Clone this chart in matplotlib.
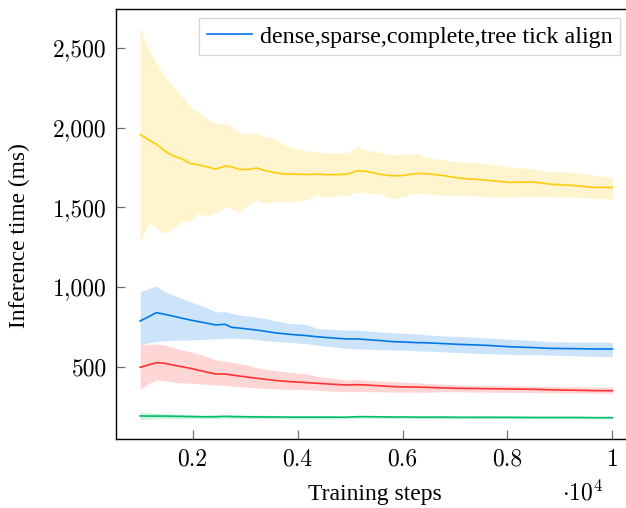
import matplotlib
matplotlib.use("Agg")
import matplotlib.pyplot as plt
from matplotlib.ticker import FuncFormatter, FixedLocator

plt.rcParams['font.family'] = 'serif'
plt.rcParams['font.serif'] = ['Liberation Serif', 'DejaVu Serif']
plt.rcParams['mathtext.fontset'] = 'cm'
plt.rcParams['axes.unicode_minus'] = False

steps = [1000, 1170, 1310, 1470, 1630, 1790, 1950, 2110, 2270, 2440, 2620, 2740, 2900,
         3060, 3220, 3380, 3540, 3700, 3850, 4170, 4360, 4550, 4930, 5150, 5310, 5570,
         5820, 6010, 6270, 6460, 6770, 7090, 7600, 8040, 8490, 8800, 9310, 9630, 10000]

yellow_mean = [1958, 1922, 1897, 1853, 1824, 1805, 1776, 1767, 1755, 1740, 1759, 1755, 1738,
               1738, 1747, 1730, 1720, 1711, 1709, 1706, 1709, 1705, 1707, 1730, 1726, 1707,
               1698, 1700, 1713, 1711, 1700, 1683, 1670, 1657, 1659, 1646, 1636, 1625, 1625]
yellow_upper = [2633, 2487, 2403, 2320, 2257, 2198, 2136, 2100, 2058, 2023, 2027, 2006, 1968,
                1964, 1964, 1943, 1933, 1902, 1881, 1855, 1848, 1840, 1843, 1881, 1860, 1845,
                1828, 1833, 1839, 1814, 1797, 1786, 1775, 1755, 1740, 1723, 1720, 1703, 1688]
yellow_lower = [1284, 1400, 1368, 1337, 1368, 1410, 1414, 1462, 1445, 1462, 1504, 1494, 1466,
                1515, 1546, 1525, 1535, 1535, 1535, 1546, 1577, 1567, 1575, 1596, 1590, 1584,
                1552, 1570, 1588, 1585, 1577, 1577, 1567, 1563, 1571, 1568, 1563, 1558, 1552]

blue_mean = [787, 815, 839, 829, 817, 805, 793, 783, 773, 762, 766, 747, 742,
             736, 730, 722, 714, 708, 703, 695, 688, 683, 674, 674, 670, 664,
             657, 655, 651, 650, 645, 640, 634, 625, 620, 615, 613, 611, 611]
blue_upper = [971, 990, 1006, 970, 950, 930, 908, 890, 870, 845, 845, 835, 824,
              818, 810, 803, 790, 780, 772, 765, 741, 735, 730, 730, 725, 718,
              713, 710, 705, 700, 693, 690, 680, 672, 665, 657, 655, 653, 653]
blue_lower = [636, 650, 657, 662, 667, 667, 667, 670, 673, 675, 678, 678, 678,
              675, 670, 664, 660, 656, 652, 645, 636, 628, 615, 612, 610, 607,
              605, 603, 600, 597, 594, 588, 582, 578, 575, 573, 568, 565, 563]

red_mean = [496, 512, 525, 521, 510, 500, 490, 478, 466, 454, 454, 448, 441,
            434, 427, 421, 415, 410, 406, 400, 396, 392, 385, 387, 385, 380,
            375, 373, 372, 370, 367, 364, 362, 360, 358, 355, 352, 350, 349]
red_upper = [636, 640, 642, 635, 620, 605, 594, 580, 562, 542, 535, 528, 518,
             510, 494, 485, 478, 470, 465, 455, 440, 430, 417, 420, 414, 410,
             406, 403, 400, 395, 391, 385, 383, 380, 378, 376, 374, 372, 371]
red_lower = [358, 395, 417, 410, 403, 398, 396, 393, 390, 385, 383, 378, 374,
             370, 366, 363, 361, 359, 358, 356, 352, 348, 343, 344, 343, 342,
             341, 340, 340, 339, 343, 342, 340, 338, 337, 336, 335, 334, 333]

green_mean = [191, 190, 190, 190, 189, 188, 187, 186, 185, 186, 188, 187, 186,
              185, 185, 184, 184, 184, 183, 183, 183, 183, 183, 186, 186, 185,
              184, 184, 183, 183, 183, 182, 182, 182, 181, 181, 181, 180, 180]
green_upper = [212, 209, 207, 205, 203, 201, 199, 198, 197, 198, 199, 198, 197,
               196, 196, 195, 195, 194, 193, 193, 193, 193, 192, 195, 195, 194,
               193, 193, 192, 192, 192, 191, 191, 190, 189, 189, 189, 188, 188]
green_lower = [168, 171, 173, 175, 175, 175, 175, 174, 173, 174, 176, 176, 175,
               174, 174, 173, 173, 173, 173, 173, 173, 173, 174, 177, 177, 176,
               175, 175, 174, 174, 174, 173, 173, 174, 173, 173, 173, 172, 172]

legend_label = "dense,sparse,complete,tree tick align"
x_label = "Training steps"
y_label = "Inference time (ms)"
y_ticks = [500, 1000, 1500, 2000, 2500]
x_ticks = [0.2, 0.4, 0.6, 0.8, 1.0]

c_yellow = (1.0, 0.80, 0.05)
c_blue = (0.0, 0.47, 0.90)
c_red = (1.0, 0.20, 0.20)
c_green = (0.0, 0.75, 0.40)

xs = [s / 1e4 for s in steps]

fig = plt.figure(figsize=(6.26, 5.08), dpi=100)
ax = fig.add_axes([0.1861, 0.1358, 0.830, 0.8465])

series = [
    (yellow_mean, yellow_lower, yellow_upper, c_yellow, None),
    (blue_mean, blue_lower, blue_upper, c_blue, legend_label),
    (red_mean, red_lower, red_upper, c_red, None),
    (green_mean, green_lower, green_upper, c_green, None),
]
for mean, lo, up, col, lab in series:
    ax.fill_between(xs, lo, up, color=col, alpha=0.2, linewidth=0)
for mean, lo, up, col, lab in series:
    ax.plot(xs, mean, color=col, linewidth=1.2, label=lab)

ax.set_xlim(0.055, 1.045)
ax.set_ylim(46, 2745)
ax.xaxis.set_major_locator(FixedLocator(x_ticks))
ax.yaxis.set_major_locator(FixedLocator(y_ticks))
ax.xaxis.set_major_formatter(FuncFormatter(lambda v, p: "1" if abs(v - 1) < 1e-9 else f"{v:.1f}"))
ax.yaxis.set_major_formatter(FuncFormatter(lambda v, p: f"{int(v):,}"))
ax.tick_params(direction='in', length=6.5, width=0.9, color='#707070',
               labelsize=17, pad=7, top=False, right=False,
               labelfontfamily='cmr10')
for sp in ax.spines.values():
    sp.set_linewidth(1.0)
    sp.set_color('black')

ax.set_xlabel(x_label, fontsize=17, va='top')
ax.xaxis.set_label_coords(0.4975, -0.105)
ax.set_ylabel(y_label, fontsize=16.8, rotation=90, ha='center', va='center')
ax.yaxis.set_label_coords(-0.186, 0.474)

leg = ax.legend(loc='upper left', bbox_to_anchor=(0.159, 0.979), fontsize=17.3,
                frameon=True, fancybox=False, handlelength=1.9, borderpad=0.32,
                handletextpad=0.3, borderaxespad=0)
leg.get_frame().set_edgecolor('#cccccc')
leg.get_frame().set_linewidth(0.9)

fig.text(0.93, 0.006, r"$\cdot 10^{4}$", fontsize=17, ha='center', va='bottom')

fig.savefig("out.png", dpi=100)
